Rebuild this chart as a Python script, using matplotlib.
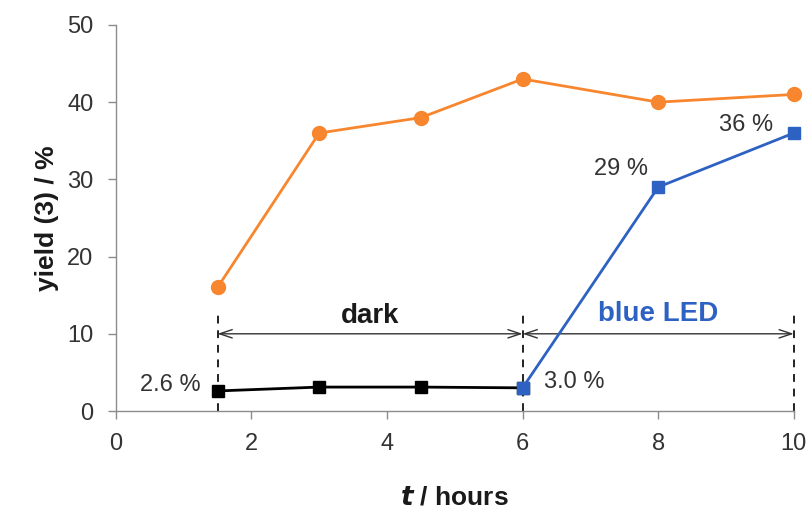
import matplotlib
matplotlib.use("Agg")
import matplotlib.pyplot as plt

plt.rcParams['font.family'] = ['Liberation Sans', 'DejaVu Sans']

# Reaction time (hours) and yields (%)
t_orange = [1.5, 3, 4.5, 6, 8, 10]
y_orange = [16, 36, 38, 43, 40, 41]

t_dark = [1.5, 3, 4.5, 6]
y_dark = [2.6, 3.1, 3.1, 3.0]

t_led = [6, 8, 10]
y_led = [3.0, 29, 36]

x_ticks = [0, 2, 4, 6, 8, 10]
y_ticks = [0, 10, 20, 30, 40, 50]

phase_bounds = [1.5, 6, 10]

orange = '#F7862E'
blue = '#2E62C2'
gray = '#8C8C8C'
txt = '#333333'

fig = plt.figure(figsize=(8.1, 5.09), dpi=100)
ax = fig.add_axes([0.143, 0.1925, 0.837, 0.7585])

ax.plot(t_orange, y_orange, color=orange, lw=2, marker='o', ms=10, zorder=3, clip_on=False)
ax.plot(t_dark, y_dark, color='black', lw=2, marker='s', ms=8, zorder=3, clip_on=False)
ax.plot(t_led, y_led, color=blue, lw=2, marker='s', ms=8, zorder=4, clip_on=False)

# phase boundaries
for xb in phase_bounds:
    ax.plot([xb, xb], [0, 13], color='#222222', lw=1.4, ls=(0, (4, 3.5)), zorder=2, clip_on=False)

# double arrows for phases
arrow_kw = dict(arrowstyle='<->,head_length=0.9,head_width=0.3', color='#333333', lw=1.0,
                shrinkA=0, shrinkB=0)
ax.annotate('', xy=(1.5, 10), xytext=(6, 10), arrowprops=arrow_kw)
ax.annotate('', xy=(6, 10), xytext=(10, 10), arrowprops=arrow_kw)

ax.text(3.75, 12.3, 'dark', ha='center', va='center', fontsize=20, fontweight='bold', color='#1a1a1a')
ax.text(8.0, 12.6, 'blue LED', ha='center', va='center', fontsize=20, fontweight='bold', color=blue)

# value labels
lab_kw = dict(fontsize=17, color=txt)
ax.text(1.25, y_dark[0] + 0.8, '2.6 %', ha='right', va='center', **lab_kw)
ax.text(6.32, y_led[0] + 0.8, '3.0 %', ha='left', va='center', **lab_kw)
ax.text(7.85, y_led[1] + 2.4, '29 %', ha='right', va='center', **lab_kw)
ax.text(9.7, y_led[2] + 1.0, '36 %', ha='right', va='center', **lab_kw)

ax.set_xlim(0, 10)
ax.set_ylim(0, 50)
ax.set_xticks(x_ticks)
ax.set_yticks(y_ticks)
ax.tick_params(axis='both', colors=gray, labelcolor=txt, labelsize=17, length=6, width=1)
ax.tick_params(axis='x', pad=10)
ax.tick_params(axis='y', pad=10)
for s in ['top', 'right']:
    ax.spines[s].set_visible(False)
for s in ['left', 'bottom']:
    ax.spines[s].set_color(gray)
    ax.spines[s].set_linewidth(1)

ax.set_ylabel('yield (3) / %', fontsize=19, fontweight='bold', color='#1a1a1a', labelpad=6)
ax.set_xlabel(r'$\boldsymbol{t}$ / hours', fontsize=19, fontweight='bold', color='#1a1a1a', labelpad=22)

fig.savefig('out.png', dpi=100)
